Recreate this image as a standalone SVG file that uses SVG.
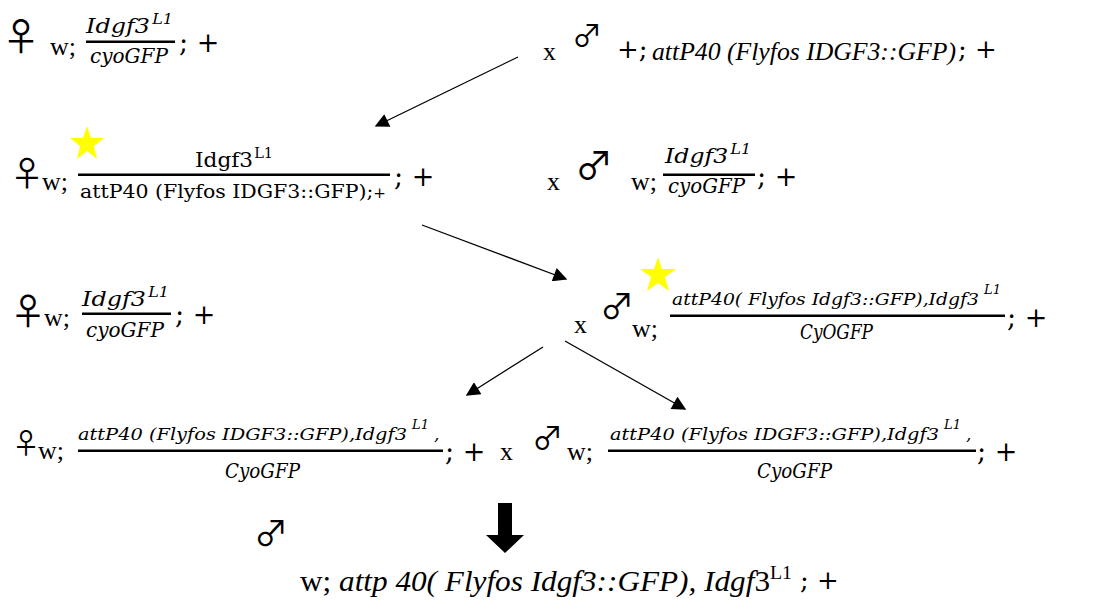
<svg xmlns="http://www.w3.org/2000/svg" width="1116" height="609" viewBox="0 0 1116 609">
<style>
.t{font-family:"Liberation Serif","Times New Roman",serif;font-size:26px;fill:#000}
.p{font-family:"DejaVu Serif",serif;font-size:27px;fill:#000}
.ti{font-style:italic}
.m{font-family:"DejaVu Serif",serif;font-size:21px;font-style:italic;fill:#000}
.ml{font-family:"DejaVu Serif",serif;font-size:17px;font-style:italic;fill:#000}
.mu{font-family:"DejaVu Serif",serif;font-size:21px;fill:#000}
.s{font-size:14px}
.sup{font-family:"DejaVu Serif",serif;font-size:13px;font-style:italic;fill:#000}
.sym{font-family:"Noto Sans CJK JP","Noto Sans CJK SC","DejaVu Sans",sans-serif;font-size:36px;fill:#000}
.bar{fill:#000}
.star{fill:#FFFF00}
.conn line{stroke:#000;stroke-width:1.3;fill:none}
</style>
<defs>
<marker id="ah" viewBox="0 0 10 10" refX="9" refY="5" markerWidth="15" markerHeight="14" markerUnits="userSpaceOnUse" orient="auto">
<path d="M0,0 L10,5 L0,10 z" fill="#000"/>
</marker>
</defs>
<rect width="1116" height="609" fill="#fff"/>

<g id="p1-female">
<text class="sym" x="2" y="50" style="font-size:38px">♀</text>
<text class="t" x="50" y="55">w;</text>
<text class="m" x="86" y="33" textLength="87" lengthAdjust="spacingAndGlyphs">Idgf3<tspan class="s" dx="2" dy="-9">L1</tspan></text>
<rect class="bar" x="86" y="40.5" width="89" height="2.5"/>
<text class="m" x="90" y="63" textLength="78" lengthAdjust="spacingAndGlyphs">cyoGFP</text>
<text class="p" x="179" y="52">; +</text>
</g>

<g id="p1-male">
<text class="t" x="543" y="60">x</text>
<text class="sym" x="572" y="46" style="font-size:30px">♂</text>
<text class="p" x="617" y="58" style="font-size:26px">+;</text>
<text class="t ti" x="652" y="60" textLength="304" lengthAdjust="spacingAndGlyphs">attP40 (Flyfos IDGF3::GFP)</text>
<text class="p" x="958" y="58" style="font-size:26px">; +</text>
</g>

<g id="f1-female">
<text class="sym" x="10" y="186" style="font-size:34px">♀</text>
<polygon class="star" points="87,126 91,138 104,138 94,146 97,159 87,151 77,159 80,146 70,138 83,138"/>
<text class="t" x="42" y="190">w;</text>
<text class="mu" x="195" y="167" textLength="78" lengthAdjust="spacingAndGlyphs">Idgf3<tspan class="s" dx="1" dy="-9">L1</tspan></text>
<rect class="bar" x="78" y="173.5" width="312" height="2.5"/>
<text class="mu" x="80" y="198" textLength="306" lengthAdjust="spacingAndGlyphs" style="font-size:19px">attP40 (Flyfos IDGF3::GFP);<tspan class="s">+</tspan></text>
<text class="p" x="394" y="186">; +</text>
</g>

<g id="f1-male">
<text class="t" x="547" y="190">x</text>
<text class="sym" x="575" y="179" style="font-size:38px">♂</text>
<text class="t" x="631" y="190">w;</text>
<text class="m" x="665" y="163" textLength="86" lengthAdjust="spacingAndGlyphs">Idgf3<tspan class="s" dx="2" dy="-9">L1</tspan></text>
<rect class="bar" x="663" y="173.5" width="92" height="2.5"/>
<text class="m" x="668" y="193" textLength="77" lengthAdjust="spacingAndGlyphs">cyoGFP</text>
<text class="p" x="757" y="186">; +</text>
</g>

<g id="f2-female">
<text class="sym" x="10" y="325">♀</text>
<text class="t" x="44" y="326">w;</text>
<text class="m" x="82" y="306" textLength="87" lengthAdjust="spacingAndGlyphs">Idgf3<tspan class="s" dx="2" dy="-9">L1</tspan></text>
<rect class="bar" x="82" y="312.5" width="89" height="2.5"/>
<text class="m" x="86" y="337" textLength="78" lengthAdjust="spacingAndGlyphs">cyoGFP</text>
<text class="p" x="175" y="324">; +</text>
</g>

<g id="f2-male">
<text class="t" x="574" y="333">x</text>
<text class="sym" x="600" y="319" style="font-size:34px">♂</text>
<polygon class="star" points="658,257 662,269 676,269 665,277 669,291 658,283 647,291 651,277 640,269 654,269"/>
<text class="t" x="632" y="337">w;</text>
<text class="ml" x="672" y="305" textLength="307" lengthAdjust="spacingAndGlyphs">attP40( Flyfos Idgf3::GFP),Idgf3</text>
<text class="sup" x="984" y="294">L1</text>
<rect class="bar" x="670" y="314.5" width="335" height="2.5"/>
<text class="m" x="800" y="339" textLength="73" lengthAdjust="spacingAndGlyphs">CyOGFP</text>
<text class="p" x="1007" y="327">; +</text>
</g>

<g id="f3-female">
<text class="sym" x="12" y="454" style="font-size:28px">♀</text>
<text class="t" x="38" y="459">w;</text>
<text class="ml" x="78" y="440" textLength="329" lengthAdjust="spacingAndGlyphs">attP40 (Flyfos IDGF3::GFP),Idgf3</text>
<text class="sup" x="412" y="429">L1</text>
<text class="ml" x="434" y="440">,</text>
<rect class="bar" x="78" y="449.5" width="365" height="2.5"/>
<text class="m" x="225" y="478" textLength="75" lengthAdjust="spacingAndGlyphs">CyoGFP</text>
<text class="p" x="445" y="461">; +</text>
</g>

<g id="f3-male">
<text class="t" x="500" y="460">x</text>
<text class="sym" x="532" y="449" style="font-size:31px">♂</text>
<text class="t" x="567" y="460">w;</text>
<text class="ml" x="610" y="440" textLength="329" lengthAdjust="spacingAndGlyphs">attP40 (Flyfos IDGF3::GFP),Idgf3</text>
<text class="sup" x="944" y="429">L1</text>
<text class="ml" x="966" y="440">,</text>
<rect class="bar" x="608" y="449.5" width="368" height="2.5"/>
<text class="m" x="757" y="478" textLength="75" lengthAdjust="spacingAndGlyphs">CyoGFP</text>
<text class="p" x="977" y="461">; +</text>
</g>

<g id="result-male">
<text class="sym" x="254" y="546" style="font-size:34px">♂</text>
<text class="t" x="300" y="591" style="font-size:30px" textLength="492" lengthAdjust="spacingAndGlyphs">w; <tspan class="ti">attp 40( Flyfos Idgf3::GFP), Idgf</tspan>3<tspan style="font-size:19px" dy="-12">L1</tspan></text>
<text class="p" x="800" y="589" style="font-size:26px">; +</text>
</g>

<g class="conn" id="connectors">
<line x1="518" y1="57" x2="376" y2="126" marker-end="url(#ah)"/>
<line x1="422" y1="225" x2="566" y2="279" marker-end="url(#ah)"/>
<line x1="543" y1="347" x2="467" y2="395" marker-end="url(#ah)"/>
<line x1="565" y1="341" x2="685" y2="409" marker-end="url(#ah)"/>
<polygon points="498,503 512,503 512,535 524,535 505,553 486,535 498,535" fill="#000" stroke="none"/>
</g>
</svg>
